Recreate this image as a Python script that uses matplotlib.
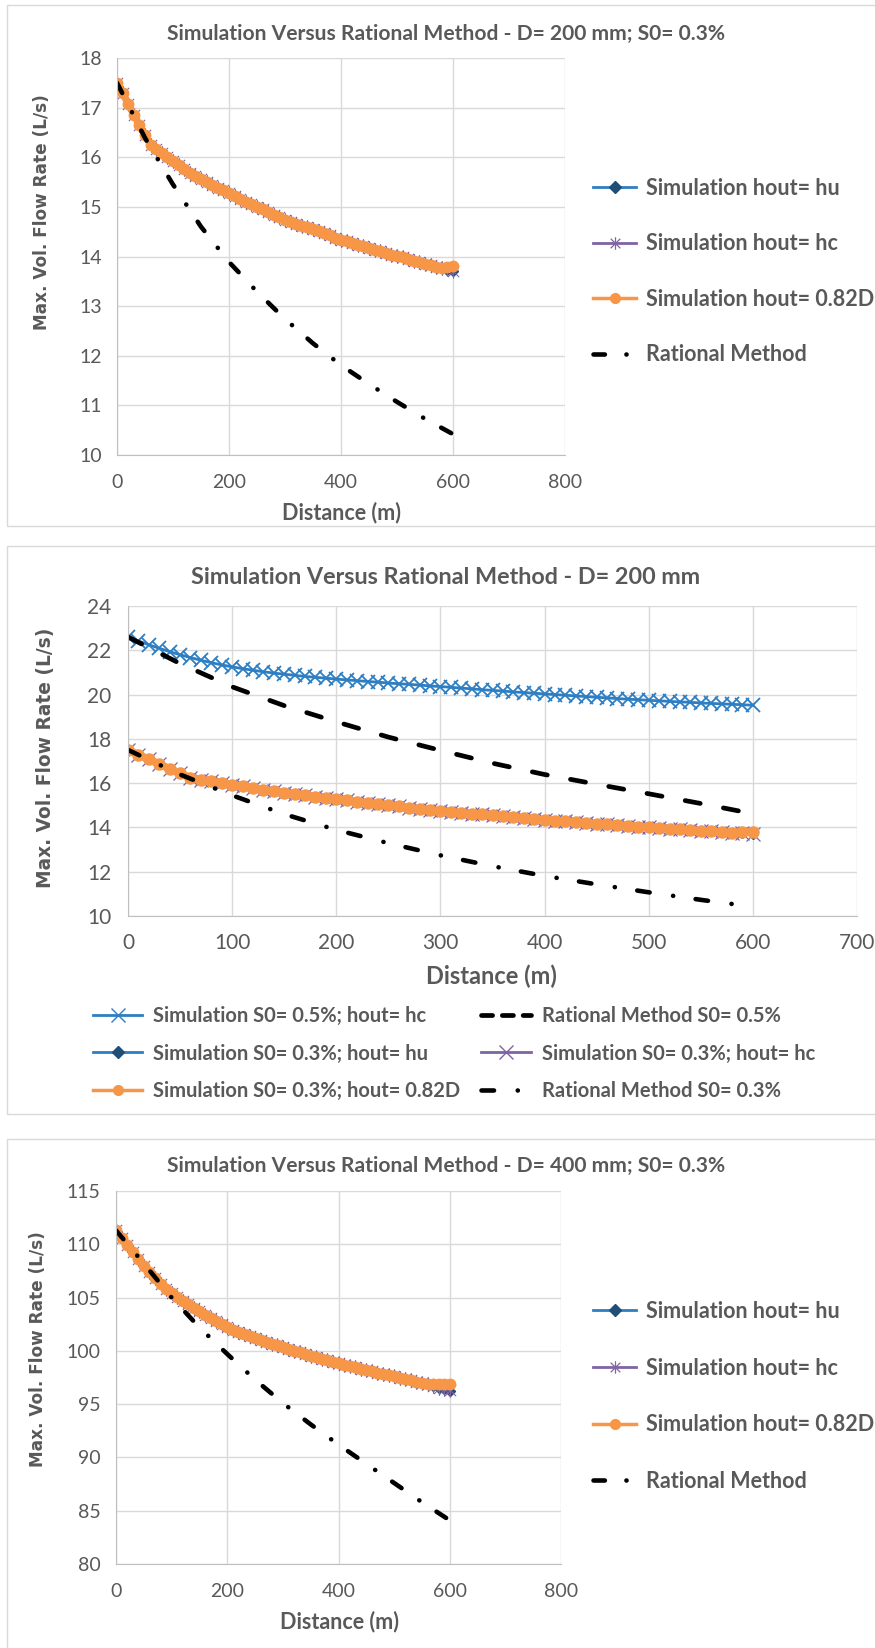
import matplotlib
matplotlib.use("Agg")
import matplotlib.pyplot as plt
from matplotlib.lines import Line2D
from matplotlib.patches import Rectangle
from matplotlib.path import Path

plt.rcParams['lines.scale_dashes'] = False

W, H = 875, 1648
GRAY = '#595959'
GRID = '#D9D9D9'
BLUE = '#2E7EC3'
NAVY = '#1F4E79'
PURPLE = '#8064A2'
ORANGE = '#F79646'

# ---- data ----
# simulation outputs every 10 m (0..550 shared, 560..600 per outlet condition)
dist_sim = list(range(0, 601, 10))
dist_rat = list(range(0, 601, 50))

# D = 200 mm, S0 = 0.3 %
q200_s03_base = [17.50, 17.29, 17.07, 16.86, 16.65, 16.44, 16.25, 16.16, 16.08, 16.01,
                 15.93, 15.85, 15.77, 15.69, 15.63, 15.57, 15.51, 15.45, 15.39, 15.33,
                 15.28, 15.22, 15.16, 15.10, 15.05, 15.00, 14.95, 14.89, 14.84, 14.79,
                 14.74, 14.70, 14.66, 14.62, 14.59, 14.55, 14.51, 14.47, 14.43, 14.38,
                 14.34, 14.31, 14.28, 14.24, 14.21, 14.17, 14.14, 14.11, 14.08, 14.04,
                 14.01, 13.98, 13.95, 13.91, 13.88, 13.85]
q200_s03_hu = q200_s03_base + [13.82, 13.79, 13.76, 13.73, 13.70]
q200_s03_hc = q200_s03_base + [13.82, 13.79, 13.77, 13.75, 13.71]
q200_s03_082 = q200_s03_base + [13.82, 13.79, 13.77, 13.78, 13.80]
rat200_s03 = [17.50, 16.39, 15.45, 14.60, 13.89, 13.29, 12.74, 12.25, 11.81, 11.43,
              11.07, 10.73, 10.42]

# D = 200 mm, S0 = 0.5 %
q200_s05_hc = [22.60, 22.42, 22.25, 22.09, 21.94, 21.80, 21.67, 21.55, 21.44, 21.34,
               21.25, 21.17, 21.10, 21.03, 20.97, 20.92, 20.87, 20.82, 20.78, 20.74,
               20.70, 20.66, 20.63, 20.59, 20.56, 20.52, 20.49, 20.46, 20.43, 20.39,
               20.36, 20.33, 20.29, 20.26, 20.22, 20.19, 20.16, 20.12, 20.09, 20.06,
               20.03, 20.00, 19.97, 19.94, 19.91, 19.88, 19.85, 19.82, 19.79, 19.77,
               19.74, 19.72, 19.69, 19.67, 19.65, 19.62, 19.60, 19.58, 19.56, 19.54,
               19.52]
rat200_s05 = [22.60, 21.40, 20.35, 19.50, 18.77, 18.08, 17.48, 16.90, 16.39, 15.95,
              15.52, 15.08, 14.62]

# D = 400 mm, S0 = 0.3 %
q400_s03_base = [111.30, 110.62, 109.95, 109.28, 108.62, 108.00, 107.40, 106.82, 106.28, 105.84,
                 105.45, 105.08, 104.72, 104.36, 104.02, 103.70, 103.39, 103.08, 102.78, 102.49,
                 102.20, 101.98, 101.77, 101.57, 101.38, 101.20, 101.02, 100.85, 100.68, 100.51,
                 100.35, 100.19, 100.03, 99.87, 99.71, 99.55, 99.41, 99.27, 99.13, 98.98,
                 98.84, 98.71, 98.58, 98.45, 98.33, 98.20, 98.08, 97.96, 97.84, 97.72,
                 97.60, 97.48, 97.36, 97.24, 97.12, 97.00]
q400_s03_hu = q400_s03_base + [96.85, 96.70, 96.52, 96.38, 96.28]
q400_s03_hc = q400_s03_base + [96.86, 96.72, 96.55, 96.42, 96.33]
q400_s03_082 = q400_s03_base + [96.92, 96.88, 96.87, 96.88, 96.90]
rat400_s03 = [111.3, 108.2, 105.0, 102.2, 99.7, 97.3, 95.1, 93.1, 91.2, 89.4,
              87.6, 85.8, 84.1]

# excel-like star marker (x with a vertical bar)
STAR = Path([(-1, -1), (1, 1), (-1, 1), (1, -1), (0, -1.3), (0, 1.3)],
            [Path.MOVETO, Path.LINETO, Path.MOVETO, Path.LINETO, Path.MOVETO, Path.LINETO])

fig = plt.figure(figsize=(W / 100, H / 100), dpi=100)


def px_rect(l, t, r, b):
    return [l / W, 1 - b / H, (r - l) / W, (b - t) / H]


def fx(x):
    return x / W


def fy(y):
    return 1 - y / H


def frame(top, bottom):
    fig.patches.append(Rectangle((fx(7), fy(bottom)), fx(900), fy(top) - fy(bottom),
                                 transform=fig.transFigure, fill=False,
                                 edgecolor=GRID, lw=1.0))


def style_axes(ax, xmax, xstep, ylim, ystep, fs, xpad, ypad):
    ax.set_xlim(0, xmax)
    ax.set_ylim(*ylim)
    ax.set_xticks(range(0, xmax + 1, xstep))
    ax.set_yticks(range(ylim[0], ylim[1] + 1, ystep))
    ax.grid(True, color=GRID, lw=1.0)
    ax.set_axisbelow(True)
    for s in ax.spines.values():
        s.set_visible(False)
    for s in ('left', 'bottom'):
        ax.spines[s].set_visible(True)
        ax.spines[s].set_color('#BFBFBF')
    ax.tick_params(length=0, labelsize=fs, labelcolor=GRAY)
    ax.tick_params(axis='x', pad=xpad)
    ax.tick_params(axis='y', pad=ypad)
    for t in ax.get_xticklabels() + ax.get_yticklabels():
        t.set_fontfamily('Lato')


def texts(title, tx, ty, fs_t, xlab_xy, fs_x, ylab_xy, fs_y):
    fig.text(fx(tx), fy(ty), title, ha='center', va='center', fontsize=fs_t,
             fontweight='bold', color=GRAY, family='Lato')
    fig.text(fx(xlab_xy[0]), fy(xlab_xy[1]), 'Distance (m)', ha='center', va='center',
             fontsize=fs_x, fontweight='bold', color=GRAY, family='Lato')
    fig.text(fx(ylab_xy[0]), fy(ylab_xy[1]), 'Max. Vol. Flow Rate (L/s)', ha='center',
             va='center', rotation=90, fontsize=fs_y, fontweight='bold', color=GRAY,
             family='DejaVu Sans')


def sim_three(ax, hu, hc, d082):
    ax.plot(dist_sim, hu, color=BLUE, lw=2.0, marker='D', ms=5.5, mfc=NAVY, mec=NAVY)
    ax.plot(dist_sim, hc, color=PURPLE, lw=2.0, marker=STAR, ms=10.5, mew=0.8,
            mec=PURPLE)
    ax.plot(dist_sim, d082, color=ORANGE, lw=5.0, marker='o', ms=7.5, mfc=ORANGE,
            mec=ORANGE)


def dash_dot(k=1.0):
    return dict(color='black', lw=3.3, dash_capstyle='round',
                dashes=(8.2 * k, 15.5 * k, 0.1, 14.8 * k))


leg_kw = dict(loc='upper left', frameon=False, borderaxespad=0, borderpad=0,
              labelcolor=GRAY, numpoints=1)

h_hu = Line2D([], [], color=BLUE, lw=2.0, marker='D', ms=6, mfc=NAVY, mec=NAVY)
h_hc_star = Line2D([], [], color=PURPLE, lw=2.0, marker=STAR, ms=9, mew=0.9, mec=PURPLE)
h_082 = Line2D([], [], color=ORANGE, lw=2.5, marker='o', ms=7, mfc=ORANGE, mec=ORANGE)
h_rat = Line2D([], [], **dash_dot())
single_labels = ['Simulation hout= hu', 'Simulation hout= hc', 'Simulation hout= 0.82D',
                 'Rational Method']

# ---------------- panel 1 ----------------
frame(5, 526)
ax1 = fig.add_axes(px_rect(117, 58, 565, 455))
style_axes(ax1, 800, 200, (10, 18), 1, 14, 13.4, 11)
sim_three(ax1, q200_s03_hu, q200_s03_hc, q200_s03_082)
ax1.plot(dist_rat, rat200_s03, **dash_dot())
texts('Simulation Versus Rational Method - D= 200 mm; S0= 0.3%', 446, 34, 15.1,
      (341, 513), 15.5, (42, 212), 12.2)
ax1.legend([h_hu, h_hc_star, h_082, h_rat], single_labels,
           bbox_to_anchor=(fx(593), fy(178)), bbox_transform=fig.transFigure,
           handlelength=2.0, handletextpad=0.45, labelspacing=1.6,
           prop=dict(family='Lato', weight='bold', size=15.5), **leg_kw)

# ---------------- panel 2 ----------------
frame(546, 1114)
ax2 = fig.add_axes(px_rect(128, 606, 857, 916))
style_axes(ax2, 700, 100, (10, 24), 2, 15, 12, 12)
ax2.plot(dist_sim, q200_s05_hc, color=BLUE, lw=2.0, marker='x', ms=10, mew=1.3)
ax2.plot(dist_rat, rat200_s05, color='black', lw=3.4, dash_capstyle='round',
         dashes=(11, 17))
ax2.plot(dist_sim, q200_s03_hu, color=BLUE, lw=2.0, marker='D', ms=5.5, mfc=NAVY, mec=NAVY)
ax2.plot(dist_sim, q200_s03_hc, color=PURPLE, lw=2.0, marker='x', ms=10.5, mew=0.9)
ax2.plot(dist_sim, q200_s03_082, color=ORANGE, lw=5.5, marker='o', ms=8, mfc=ORANGE,
         mec=ORANGE)
ax2.plot(dist_rat, rat200_s03, **dash_dot(1.1))
texts('Simulation Versus Rational Method - D= 200 mm', 446, 578, 16.85,
      (491, 976), 17, (46, 758), 13.4)

h_s05 = Line2D([], [], color=BLUE, lw=2.0, marker='x', ms=10, mew=1.0)
h_hc_x = Line2D([], [], color=PURPLE, lw=2.0, marker='x', ms=10, mew=1.0)
h_rat05 = Line2D([], [], color='black', lw=3.4, dash_capstyle='round', dashes=(8, 7))
ax2.legend([h_s05, h_hu, h_082, h_rat05, h_hc_x, Line2D([], [], **dash_dot(1.1))],
           ['Simulation S0= 0.5%; hout= hc', 'Simulation S0= 0.3%; hout= hu',
            'Simulation S0= 0.3%; hout= 0.82D', 'Rational Method S0= 0.5%',
            'Simulation S0= 0.3%; hout= hc', 'Rational Method S0= 0.3%'],
           bbox_to_anchor=(fx(93), fy(1006)), bbox_transform=fig.transFigure,
           ncol=2, handlelength=2.44, handletextpad=0.55, labelspacing=0.87,
           columnspacing=1.05, prop=dict(family='Lato', weight='bold', size=14.5),
           **leg_kw)

# ---------------- panel 3 ----------------
frame(1139, 1700)
ax3 = fig.add_axes(px_rect(116, 1191, 561, 1564))
style_axes(ax3, 800, 200, (80, 115), 5, 14, 13.4, 11)
sim_three(ax3, q400_s03_hu, q400_s03_hc, q400_s03_082)
ax3.plot(dist_rat, rat400_s03, **dash_dot())
texts('Simulation Versus Rational Method - D= 400 mm; S0= 0.3%', 446, 1166, 15.1,
      (339, 1622), 15.5, (38, 1349), 12.2)
ax3.legend([h_hu, h_hc_star, h_082, h_rat], single_labels,
           bbox_to_anchor=(fx(593), fy(1301)), bbox_transform=fig.transFigure,
           handlelength=2.0, handletextpad=0.45, labelspacing=1.65,
           prop=dict(family='Lato', weight='bold', size=15.5), **leg_kw)

fig.savefig('out.png', dpi=100)
